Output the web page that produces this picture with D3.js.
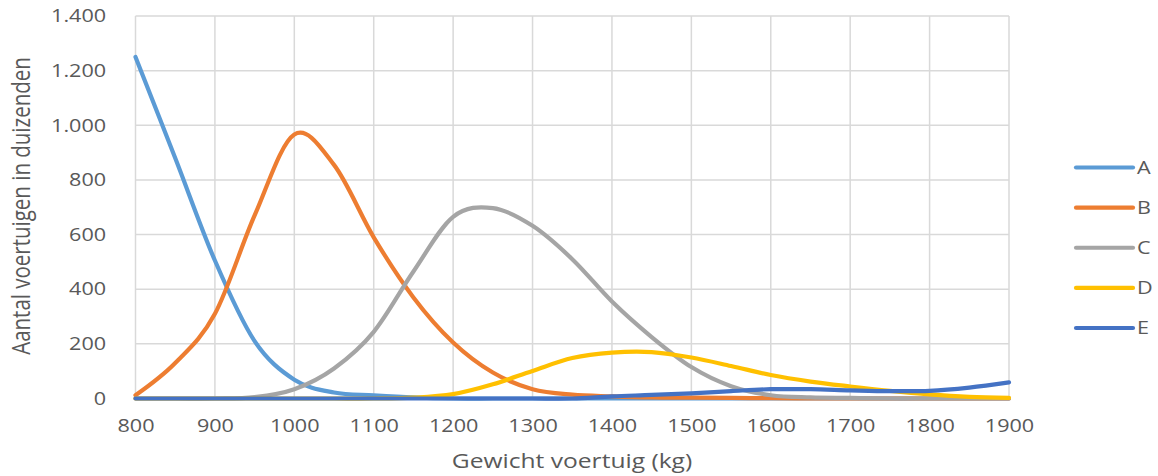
<!DOCTYPE html>
<html>
<head>
<meta charset="utf-8">
<script src="https://cdn.jsdelivr.net/npm/d3@7"></script>
<style>
  html, body { margin: 0; padding: 0; background: #fff; }
  svg { display: block; }
  text { font-family: "Open Sans", "Noto Sans", sans-serif; fill: #595959; }
</style>
</head>
<body>
<svg id="chart" width="1158" height="476"></svg>
<script>
const weights = [800, 850, 900, 950, 1000, 1050, 1100, 1150, 1200, 1250, 1300, 1350, 1400, 1450, 1500, 1550, 1600, 1650, 1700, 1750, 1800, 1850, 1900];
const seriesNames = ["A", "B", "C", "D", "E"];
const seriesA = [1250, 880, 505, 210, 69, 22, 12, 4, 0, 0, 0, 0, 0, 0, 0, 0, 0, 0, 0, 0, 0, 0, 0];
const seriesB = [12, 130, 310, 670, 966, 855, 590, 370, 205, 95, 34, 14, 8, 4, 3, 2, 1, 0, 0, 0, 0, 0, 0];
const seriesC = [0, 0, 0, 5, 34, 110, 244, 465, 665, 697, 632, 510, 355, 225, 115, 45, 12, 4, 2, 0, 0, 0, 0];
const seriesD = [0, 0, 0, 0, 0, 0, 0, 3, 16, 52, 101, 148, 168, 170, 150, 119, 86, 62, 44, 28, 15, 6, 2];
const seriesE = [0, 0, 0, 0, 0, 0, 0, 0, 0, 0, 0, 0, 8, 13, 19, 27, 34, 34, 30, 27, 28, 40, 59];
const xTicks = [800, 900, 1000, 1100, 1200, 1300, 1400, 1500, 1600, 1700, 1800, 1900];
const yTicks = [0, 200, 400, 600, 800, 1000, 1200, 1400];
const yTickLabels = ["0", "200", "400", "600", "800", "1.000", "1.200", "1.400"];
const colors = ["#5B9BD5", "#ED7D31", "#A5A5A5", "#FFC000", "#4472C4"];

const allSeries = [seriesA, seriesB, seriesC, seriesD, seriesE];
const stretch = 1.2;
const fontStack = '"Open Sans", "Noto Sans", sans-serif';

const svg = d3.select("#chart");
const x = d3.scaleLinear().domain([800, 1900]).range([135.5, 1009]);
const y = d3.scaleLinear().domain([0, 1400]).range([398.5, 16]);

// gridlines
const grid = svg.append("g");
grid.selectAll("line.v").data(xTicks).enter().append("line")
  .attr("x1", d => x(d)).attr("x2", d => x(d))
  .attr("y1", y(1400)).attr("y2", y(0))
  .attr("stroke", "#D9D9D9").attr("stroke-width", 1.5);
grid.selectAll("line.h").data(yTicks).enter().append("line")
  .attr("x1", x(800)).attr("x2", x(1900))
  .attr("y1", d => y(d)).attr("y2", d => y(d))
  .attr("stroke", "#D9D9D9").attr("stroke-width", 1.5);

// axes (labels only)
const xAxis = d3.axisBottom(x).tickValues(xTicks).tickSize(0).tickPadding(21).tickFormat(d3.format("d"));
const gx = svg.append("g").attr("transform", `translate(0,${y(0)})`).call(xAxis);
gx.select(".domain").remove();
gx.selectAll("text").style("font-size", "18px").style("fill", "#595959")
  .style("font-family", fontStack)
  .attr("transform", `scale(${stretch},1)`);

const yAxis = d3.axisLeft(y).tickValues(yTicks).tickSize(0).tickPadding(24.5)
  .tickFormat((d, i) => yTickLabels[i]);
const gy = svg.append("g").attr("transform", `translate(${x(800)},0)`).call(yAxis);
gy.select(".domain").remove();
gy.selectAll("text").style("font-size", "18px").style("fill", "#595959")
  .style("font-family", fontStack)
  .attr("transform", `scale(${stretch},1)`);

// series lines
const line = d3.line()
  .x((d, i) => x(weights[i]))
  .y(d => y(d))
  .curve(d3.curveCardinal.tension(0));

allSeries.forEach((s, k) => {
  svg.append("path")
    .datum(s)
    .attr("d", line)
    .attr("fill", "none")
    .attr("stroke", colors[k])
    .attr("stroke-width", 4.2)
    .attr("stroke-linecap", "round")
    .attr("stroke-linejoin", "round");
});

// axis titles
svg.append("text")
  .attr("transform", `translate(572,468) scale(${stretch},1)`)
  .attr("text-anchor", "middle")
  .style("font-size", "20.5px")
  .text("Gewicht voertuig (kg)");

svg.append("text")
  .attr("transform", `translate(30,206) scale(${stretch},1) rotate(-90)`)
  .attr("text-anchor", "middle")
  .style("font-size", "20.5px")
  .text("Aantal voertuigen in duizenden");

// legend
const legendY = d3.scalePoint().domain(seriesNames).range([167.5, 328]);
const lg = svg.append("g");
seriesNames.forEach((n, k) => {
  lg.append("line")
    .attr("x1", 1076).attr("x2", 1133)
    .attr("y1", legendY(n)).attr("y2", legendY(n))
    .attr("stroke", colors[k]).attr("stroke-width", 4.2)
    .attr("stroke-linecap", "round");
  lg.append("text")
    .attr("transform", `translate(1137,${legendY(n)}) scale(${stretch},1)`)
    .attr("dy", "0.36em")
    .style("font-size", "18px")
    .text(n);
});
</script>
</body>
</html>
